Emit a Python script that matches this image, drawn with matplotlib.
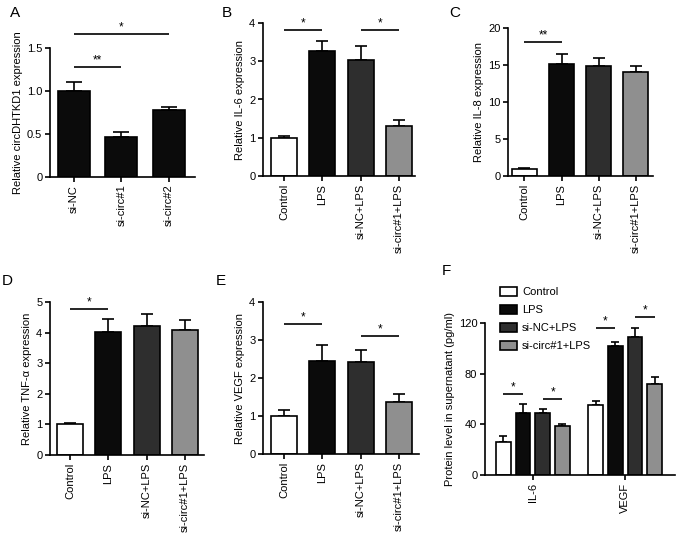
import matplotlib
matplotlib.use("Agg")
import matplotlib.pyplot as plt
import numpy as np
from matplotlib.patches import Patch

plt.rcParams['font.family'] = ['Liberation Sans', 'DejaVu Sans']

# ---------------- data ----------------
a_groups = ["si-NC", "si-circ#1", "si-circ#2"]
a_vals = [1.00, 0.47, 0.78]
a_errs = [0.10, 0.05, 0.03]

groups4 = ["Control", "LPS", "si-NC+LPS", "si-circ#1+LPS"]
colors4 = ["#ffffff", "#0b0b0b", "#2e2e2e", "#8f8f8f"]

b_vals = [1.00, 3.28, 3.04, 1.31]
b_errs = [0.05, 0.25, 0.35, 0.15]

c_vals = [1.00, 15.1, 14.8, 14.1]
c_errs = [0.05, 1.4, 1.1, 0.8]

d_vals = [1.00, 4.03, 4.22, 4.10]
d_errs = [0.05, 0.42, 0.40, 0.32]

e_vals = [1.00, 2.45, 2.43, 1.37]
e_errs = [0.15, 0.42, 0.32, 0.22]

f_cats = ["IL-6", "VEGF"]
f_vals = {
    "Control": [26.4, 55.4],
    "LPS": [49.3, 102.1],
    "si-NC+LPS": [48.8, 109.0],
    "si-circ#1+LPS": [38.3, 71.5],
}
f_errs = {
    "Control": [4.0, 3.4],
    "LPS": [6.6, 2.6],
    "si-NC+LPS": [3.4, 7.0],
    "si-circ#1+LPS": [2.1, 5.8],
}

# ---------------- figure ----------------
W, H = 677, 538
fig = plt.figure(figsize=(W / 100, H / 100), dpi=100)
FS = 8
LW = 1.2


def add_ax(l, t, r, b):
    return fig.add_axes([l / W, 1 - b / H, (r - l) / W, (b - t) / H])


def style(ax):
    for s in ("top", "right"):
        ax.spines[s].set_visible(False)
    for s in ("left", "bottom"):
        ax.spines[s].set_linewidth(LW)
    ax.tick_params(direction="out", length=3.5, width=LW, labelsize=FS, pad=2)


def sig(ax, x1, x2, y, txt="*"):
    ax.plot([x1, x2], [y, y], color="black", lw=LW, clip_on=False, solid_capstyle="butt")
    ax.annotate(txt, ((x1 + x2) / 2, y), xytext=(0, 0.5), textcoords="offset points",
                ha="center", va="bottom", fontsize=8.5, annotation_clip=False)


def bars(ax, vals, errs, cols, width, capsize):
    x = np.arange(len(vals))
    ax.bar(x, vals, width=width, color=cols, edgecolor="black", linewidth=LW, zorder=2)
    ax.errorbar(x, vals, yerr=[np.zeros(len(errs)), errs], fmt="none", ecolor="black",
                elinewidth=LW, capsize=capsize, capthick=LW, zorder=1)
    return x


def xlabels(ax, x, labels):
    ax.set_xticks(x)
    ax.set_xticklabels(labels, rotation=90, fontsize=FS)


# Panel A
axA = add_ax(50, 48, 195, 177)
style(axA)
x = bars(axA, a_vals, a_errs, ["#0b0b0b"] * 3, 0.67, 5.5)
axA.set_xlim(-0.5, 2.55)
axA.set_ylim(0, 1.5)
axA.set_yticks([0, 0.5, 1.0, 1.5])
axA.set_yticklabels(["0", "0.5", "1.0", "1.5"])
xlabels(axA, x, a_groups)
axA.set_ylabel("Relative circDHTKD1 expression", fontsize=FS, labelpad=3)
sig(axA, 0, 1, 1.28, "**")
sig(axA, 0, 2, 1.66, "*")

# Panel B
axB = add_ax(263, 23, 415, 176)
style(axB)
x = bars(axB, b_vals, b_errs, colors4, 0.68, 4.6)
axB.set_xlim(-0.55, 3.42)
axB.set_ylim(0, 4)
axB.set_yticks([0, 1, 2, 3, 4])
xlabels(axB, x, groups4)
axB.set_ylabel("Relative IL-6 expression", fontsize=FS, labelpad=3)
sig(axB, 0, 1, 3.81)
sig(axB, 2, 3, 3.81)

# Panel C
axC = add_ax(508, 28, 653, 176)
style(axC)
x = bars(axC, c_vals, c_errs, colors4, 0.67, 4.5)
axC.set_xlim(-0.44, 3.46)
axC.set_ylim(0, 20)
axC.set_yticks([0, 5, 10, 15, 20])
xlabels(axC, x, groups4)
axC.set_ylabel("Relative IL-8 expression", fontsize=FS, labelpad=3)
sig(axC, 0, 1, 18.1, "**")

# Panel D
axD = add_ax(50, 302, 204, 455)
style(axD)
x = bars(axD, d_vals, d_errs, colors4, 0.68, 4.6)
axD.set_xlim(-0.52, 3.5)
axD.set_ylim(0, 5)
axD.set_yticks([0, 1, 2, 3, 4, 5])
xlabels(axD, x, groups4)
axD.set_ylabel("Relative TNF-\u03b1 expression", fontsize=FS, labelpad=3)
sig(axD, 0, 1, 4.78)

# Panel E
axE = add_ax(263, 302, 419, 454)
style(axE)
x = bars(axE, e_vals, e_errs, colors4, 0.68, 4.6)
axE.set_xlim(-0.55, 3.52)
axE.set_ylim(0, 4)
axE.set_yticks([0, 1, 2, 3, 4])
xlabels(axE, x, groups4)
axE.set_ylabel("Relative VEGF expression", fontsize=FS, labelpad=3)
sig(axE, 0, 1, 3.42)
sig(axE, 2, 3, 3.11)

# Panel F
axF = add_ax(485, 323, 675, 475)
style(axF)
gx = np.arange(len(f_cats))
bw = 0.158
step = 0.213
handles = []
for i, g in enumerate(groups4):
    xs = gx + (i - 1.5) * step
    axF.bar(xs, f_vals[g], width=bw, color=colors4[i], edgecolor="black", linewidth=LW, zorder=2)
    axF.errorbar(xs, f_vals[g], yerr=[np.zeros(len(gx)), f_errs[g]], fmt="none",
                 ecolor="black", elinewidth=LW, capsize=3.0, capthick=LW, zorder=1)
    handles.append(Patch(facecolor=colors4[i], edgecolor="black", linewidth=LW, label=g))
axF.set_xlim(-0.52, 1.54)
axF.set_ylim(0, 120)
axF.set_yticks([0, 40, 80, 120])
xlabels(axF, gx, f_cats)
axF.set_ylabel("Protein level in supernatant (pg/ml)", fontsize=FS, labelpad=3)
sig(axF, -1.5 * step, -0.5 * step, 64.1)
sig(axF, 0.5 * step, 1.5 * step, 60.2)
sig(axF, 1 - 1.5 * step, 1 - 0.5 * step, 116.1)
sig(axF, 1 + 0.5 * step, 1 + 1.5 * step, 124.8)

fig.legend(handles=handles, loc="upper left", bbox_to_anchor=(500 / W, 1 - 287 / H),
           frameon=False, fontsize=FS, handlelength=1.55, handleheight=0.8,
           handletextpad=0.45, labelspacing=0.72, borderpad=0, borderaxespad=0)

# Panel letters
for lab, px, py in [("A", 10, 17), ("B", 222, 17), ("C", 449, 17),
                    ("D", 2, 285), ("E", 216, 285), ("F", 442, 275)]:
    fig.text(px / W, 1 - py / H, lab, fontsize=11, ha="left", va="baseline")

fig.savefig("out.png", dpi=100)
